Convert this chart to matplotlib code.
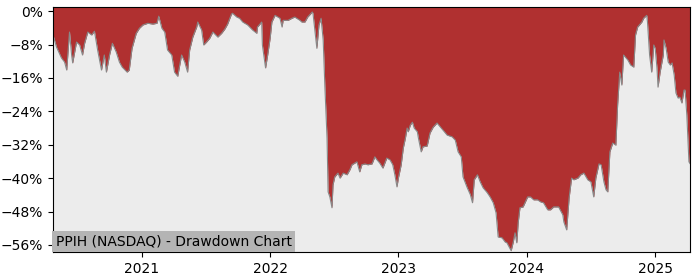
import matplotlib
matplotlib.use('Agg')
import matplotlib.pyplot as plt
import matplotlib.ticker as ticker
import pandas as pd

dates = [
    '2020-04-23', '2020-05-03', '2020-05-17', '2020-05-26', '2020-06-01', '2020-06-09',
    '2020-06-15', '2020-06-18', '2020-06-29', '2020-07-08', '2020-07-16', '2020-07-22',
    '2020-07-31', '2020-08-11', '2020-08-19', '2020-08-28', '2020-09-08', '2020-09-16',
    '2020-09-22', '2020-10-01', '2020-10-09', '2020-10-20', '2020-10-29', '2020-11-06',
    '2020-11-20', '2020-11-26', '2020-12-04', '2020-12-16', '2020-12-25',
    '2021-01-04', '2021-01-18', '2021-02-01', '2021-02-13', '2021-02-18', '2021-02-27',
    '2021-03-07', '2021-03-15', '2021-03-27', '2021-04-04', '2021-04-13', '2021-04-24',
    '2021-05-03', '2021-05-11', '2021-05-17', '2021-05-26', '2021-06-06', '2021-06-09',
    '2021-06-20', '2021-06-26', '2021-07-04', '2021-07-13', '2021-07-22', '2021-08-05',
    '2021-08-16', '2021-08-25', '2021-09-02', '2021-09-13', '2021-09-16', '2021-09-28',
    '2021-10-06', '2021-10-15', '2021-10-29', '2021-11-12', '2021-11-24', '2021-11-26',
    '2021-12-08', '2021-12-10', '2021-12-19', '2021-12-25',
    '2022-01-01', '2022-01-06', '2022-01-15', '2022-01-29', '2022-02-04', '2022-02-07',
    '2022-02-21', '2022-03-04', '2022-03-12', '2022-03-27', '2022-04-01', '2022-04-10',
    '2022-04-18', '2022-05-01', '2022-05-03', '2022-05-14', '2022-05-20', '2022-05-26',
    '2022-06-01', '2022-06-06', '2022-06-12', '2022-06-15', '2022-06-20', '2022-06-26',
    '2022-06-29', '2022-07-04', '2022-07-13', '2022-07-19', '2022-07-28', '2022-08-08',
    '2022-08-16', '2022-08-22', '2022-08-30', '2022-09-05', '2022-09-13', '2022-09-19',
    '2022-09-28', '2022-10-06', '2022-10-18', '2022-10-26', '2022-11-01', '2022-11-09',
    '2022-11-18', '2022-11-29', '2022-12-08', '2022-12-16', '2022-12-22', '2022-12-28',
    '2023-01-01', '2023-01-09', '2023-01-15', '2023-01-21', '2023-01-26', '2023-01-29',
    '2023-02-04', '2023-02-10', '2023-02-15', '2023-02-24', '2023-02-27', '2023-03-07',
    '2023-03-12', '2023-03-24', '2023-04-01', '2023-04-10', '2023-04-21', '2023-05-01',
    '2023-05-08', '2023-05-20', '2023-06-03', '2023-06-12', '2023-06-20', '2023-06-29',
    '2023-07-04', '2023-07-16', '2023-07-25', '2023-07-31', '2023-08-05', '2023-08-14',
    '2023-08-22', '2023-08-30', '2023-09-11', '2023-09-19', '2023-09-28', '2023-10-06',
    '2023-10-12', '2023-10-23', '2023-11-01', '2023-11-06', '2023-11-18', '2023-11-24',
    '2023-11-29', '2023-12-04', '2023-12-08', '2023-12-13', '2023-12-22',
    '2024-01-04', '2024-01-12', '2024-01-21', '2024-02-01', '2024-02-10', '2024-02-18',
    '2024-03-01', '2024-03-09', '2024-03-18', '2024-04-01', '2024-04-13', '2024-04-16',
    '2024-04-24', '2024-05-01', '2024-05-08', '2024-05-14', '2024-05-26', '2024-06-03',
    '2024-06-12', '2024-06-23', '2024-07-02', '2024-07-10', '2024-07-16', '2024-07-25',
    '2024-07-31', '2024-08-08', '2024-08-14', '2024-08-19', '2024-08-25', '2024-09-02',
    '2024-09-11', '2024-09-16', '2024-09-22', '2024-09-28', '2024-10-03', '2024-10-15',
    '2024-10-23', '2024-11-01', '2024-11-06', '2024-11-12', '2024-11-24', '2024-11-29',
    '2024-12-08', '2024-12-10', '2024-12-16', '2024-12-22', '2024-12-28',
    '2025-01-01', '2025-01-06', '2025-01-09', '2025-01-15', '2025-01-24', '2025-01-26',
    '2025-02-01', '2025-02-07', '2025-02-13', '2025-02-18', '2025-02-24', '2025-03-01',
    '2025-03-07', '2025-03-12', '2025-03-18', '2025-03-24', '2025-03-27', '2025-04-01',
    '2025-04-07', '2025-04-10',
]

drawdown = [
    -5.7, -8.6, -11.2, -12.2, -14.1, -5.0,
    -10.5, -12.4, -7.4, -8.1, -10.5, -7.7,
    -5.0, -5.7, -4.8, -9.3, -14.1, -10.5,
    -14.6, -10.5, -7.7, -9.8, -12.2, -13.4,
    -14.6, -14.1, -8.9, -5.3, -4.1,
    -3.3, -2.9, -3.1, -2.9, -1.2, -4.1,
    -5.0, -9.3, -10.5, -14.6, -15.6, -10.5,
    -12.2, -14.6, -9.3, -6.2, -3.8, -2.6,
    -4.5, -8.1, -7.4, -6.5, -5.0, -6.2,
    -5.3, -4.3, -3.1, -0.7, -0.5, -1.4,
    -1.7, -2.6, -3.3, -4.5, -5.3, -3.8,
    -2.6, -8.1, -13.6, -10.5,
    -6.5, -2.6, -1.0, -1.7, -3.8, -2.2,
    -2.2, -1.7, -1.4, -2.2, -2.6, -2.6,
    -1.4, -0.2, -0.5, -8.9, -3.3, -1.7,
    -6.9, -18.4, -30.4, -43.3, -44.5, -47.1,
    -41.6, -39.7, -38.8, -40.0, -38.8, -39.2,
    -38.0, -36.8, -36.4, -36.1, -38.5, -36.8,
    -36.6, -36.8, -36.6, -34.9, -35.6, -36.4,
    -37.6, -35.2, -35.6, -36.8, -39.2, -42.1,
    -40.0, -36.8, -32.8, -30.4, -28.0, -28.9,
    -27.3, -26.6, -28.0, -28.9, -30.4, -33.7,
    -32.5, -32.3, -29.2, -27.8, -26.8, -27.8,
    -28.5, -29.7, -30.1, -30.9, -33.7, -34.9,
    -39.7, -42.3, -44.0, -45.9, -40.4, -39.2,
    -40.9, -42.3, -43.5, -44.5, -45.9, -48.3,
    -54.1, -54.3, -55.3, -55.5, -57.4, -55.3,
    -53.1, -55.5, -50.7, -47.1, -46.9,
    -44.5, -44.5, -45.2, -45.2, -45.7, -45.9,
    -47.6, -47.6, -46.9, -46.9, -48.8, -50.5,
    -52.4, -44.7, -40.0, -40.4, -40.0, -39.2,
    -38.8, -40.4, -40.9, -44.5, -40.0, -36.6,
    -36.8, -40.9, -42.8, -43.3, -33.7, -31.6,
    -32.1, -22.5, -14.6, -17.7, -10.5, -11.7,
    -12.9, -13.4, -5.7, -3.8, -2.6, -1.7,
    -1.0, -2.6, -10.5, -14.6, -8.1,
    -8.9, -13.6, -18.2, -14.6, -10.5, -6.9,
    -8.9, -12.2, -12.9, -12.4, -15.3, -19.6,
    -20.8, -20.6, -22.0, -18.9, -18.9, -24.9,
    -36.1, -36.5,
]

yticks = [0, -8, -16, -24, -32, -40, -48, -56]
title = 'PPIH (NASDAQ) - Drawdown Chart'

t = pd.to_datetime(dates)

fig = plt.figure(figsize=(7, 2.8), dpi=100)
ax = fig.add_axes([0.0757, 0.1, 0.91, 0.875])
ax.set_facecolor('#ececec')

ax.fill_between(t, drawdown, 1, color='#b03030', lw=0)
ax.plot(t, drawdown, color='#888888', lw=0.8)

ax.set_xlim(t[0], t[-1])
ax.set_ylim(-57.7, 1)
ax.set_yticks(yticks)
ax.yaxis.set_major_formatter(ticker.FuncFormatter(
    lambda v, p: f'{v:.0f}%'.replace('-', '\u2212')))
ax.xaxis.set_major_locator(matplotlib.dates.YearLocator())
ax.xaxis.set_major_formatter(matplotlib.dates.DateFormatter('%Y'))
ax.tick_params(labelsize=10)

ax.text(0.004, 0.028, title, transform=ax.transAxes, fontsize=10,
        bbox=dict(facecolor='#b4b4b4', edgecolor='none', pad=2.5))

fig.savefig('out.png', dpi=100)
